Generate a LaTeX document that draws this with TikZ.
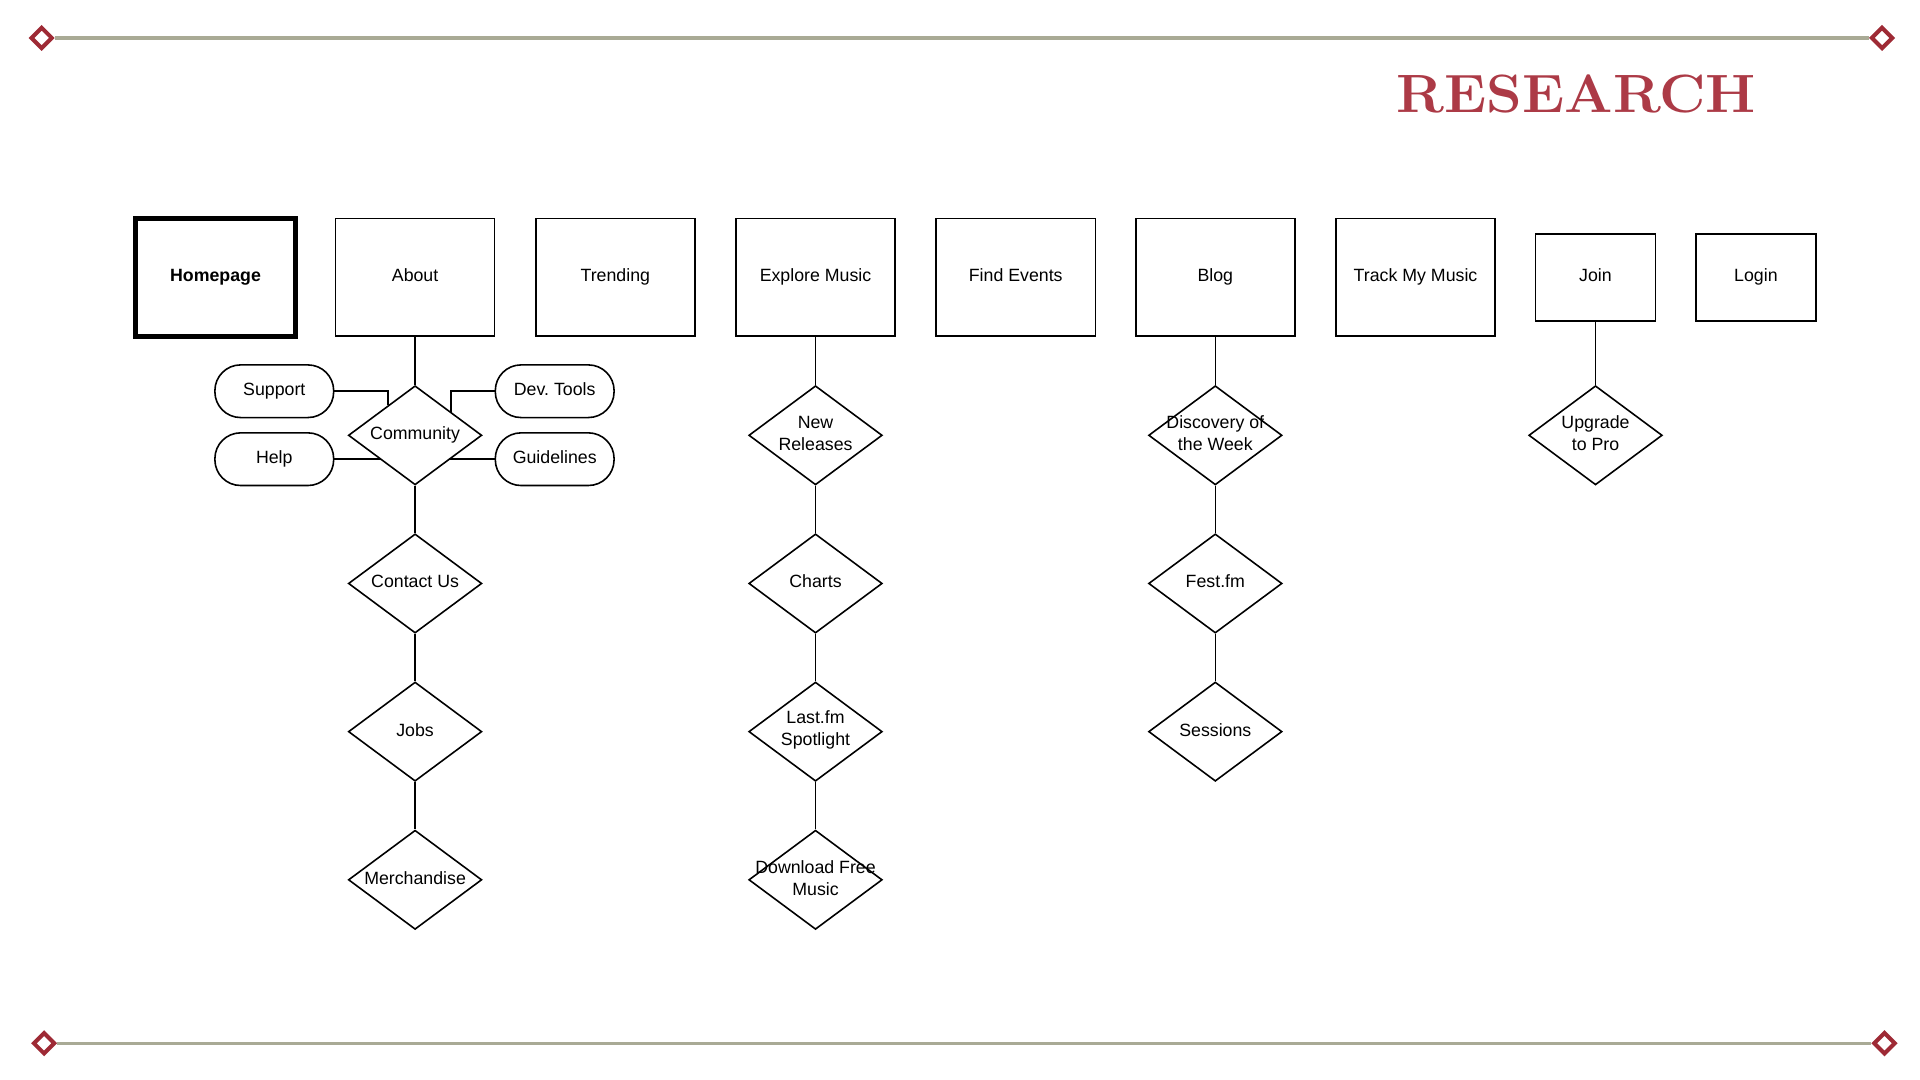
\documentclass[tikz,border=0pt]{standalone}
\usepackage{fontspec}
\newfontfamily\arial{Liberation Sans}
\usetikzlibrary{shapes.geometric,calc}
\definecolor{titlered}{HTML}{AC3A46}
\definecolor{markred}{HTML}{9E2A35}
\definecolor{rulegrey}{HTML}{A9AA95}
\tikzset{
  lbl/.style={font=\arial\fontsize{14.5}{18}\selectfont, align=center},
  oneline/.style={text height=10.4pt, text depth=3.1pt},
  box/.style={draw, line width=1.3pt, minimum width=130pt, minimum height=96pt, inner sep=0pt, lbl, oneline},
  smallbox/.style={box, minimum width=98pt, minimum height=71pt},
  dia/.style={draw, diamond, line width=1.3pt, minimum width=109pt, minimum height=81pt, inner sep=0pt},
  dtext/.style={lbl, inner sep=0pt, yshift=1.5pt},
  dtext1/.style={lbl, inner sep=0pt, oneline},
  pill/.style={draw, rounded corners=21pt, line width=1.3pt, minimum width=97pt, minimum height=43pt, inner sep=0pt, lbl, oneline},
  conn/.style={line width=1.3pt},
  mk/.style={draw=markred, fill=white, diamond, line width=3.3pt, minimum width=18pt, minimum height=18pt, inner sep=0pt},
  rule/.style={draw=rulegrey, line width=2.6pt}
}
\begin{document}
\frenchspacing
\begin{tikzpicture}[x=1pt,y=-1pt]
\useasboundingbox (0,0) rectangle (1568,882);
% border rules
\node[mk] (tl) at (34,31) {};
\node[mk] (tr) at (1537,31) {};
\node[mk] (bl) at (36,852) {};
\node[mk] (br) at (1539,852) {};
\draw[rule] (tl.east) -- (tr.west);
\draw[rule] (bl.east) -- (br.west);
% title
\node[text=titlered, font=\bfseries\fontsize{44}{44}\selectfont, inner sep=0pt] (title) at (1287.5,77) {\scalebox{1.06}[1]{RESEARCH}};
% top-level boxes
\node[box, line width=4pt, font=\arial\bfseries\fontsize{14.5}{18}\selectfont] (home) at (176,226.5) {Homepage};
\node[box] (about) at (339,226.5) {About};
\node[box] (trend) at (502.5,226.5) {Trending};
\node[box] (explore) at (666,226.5) {Explore Music};
\node[box] (events) at (829.5,226.5) {Find Events};
\node[box] (blog) at (992.5,226.5) {Blog};
\node[box] (track) at (1156,226.5) {Track My Music};
\node[smallbox] (join) at (1303,226.5) {Join};
\node[smallbox] (login) at (1434,226.5) {Login};
% About column
\node[dia, label={[dtext1]center:Community}] (comm) at (339,355.5) {};
\node[dia, label={[dtext1]center:Contact Us}] (contact) at (339,476.5) {};
\node[dia, label={[dtext1]center:Jobs}] (jobs) at (339,597.5) {};
\node[dia, label={[dtext1]center:Merchandise}] (merch) at (339,718.5) {};
\node[pill] (sup) at (224,319.5) {Support};
\node[pill] (help) at (224,375) {Help};
\node[pill] (dev) at (453,319.5) {Dev. Tools};
\node[pill] (guide) at (453,375) {Guidelines};
% Explore column
\node[dia, label={[dtext]center:New\\Releases}] (newrel) at (666,355.5) {};
\node[dia, label={[dtext1]center:Charts}] (charts) at (666,476.5) {};
\node[dia, label={[dtext]center:Last.fm\\Spotlight}] (spot) at (666,597.5) {};
\node[dia, label={[dtext]center:Download Free\\Music}] (dl) at (666,718.5) {};
% Blog column
\node[dia, label={[dtext]center:Discovery of\\the Week}] (disc) at (992.5,355.5) {};
\node[dia, label={[dtext1]center:Fest.fm}] (fest) at (992.5,476.5) {};
\node[dia, label={[dtext1]center:Sessions}] (sess) at (992.5,597.5) {};
% Join column
\node[dia, label={[dtext]center:Upgrade\\to Pro}] (pro) at (1303,355.5) {};
% connectors
\draw[conn] (about) -- (comm);
\draw[conn] (comm) -- (contact);
\draw[conn] (contact) -- (jobs);
\draw[conn] (jobs) -- (merch);
\draw[conn] (explore) -- (newrel);
\draw[conn] (newrel) -- (charts);
\draw[conn] (charts) -- (spot);
\draw[conn] (spot) -- (dl);
\draw[conn] (blog) -- (disc);
\draw[conn] (disc) -- (fest);
\draw[conn] (fest) -- (sess);
\draw[conn] (join) -- (pro);
\coordinate (cnw) at ($(comm.north)!0.4!(comm.west)$);
\coordinate (cne) at ($(comm.north)!0.53!(comm.east)$);
\coordinate (csw) at ($(comm.west)!0.5!(comm.south)$);
\coordinate (cse) at ($(comm.east)!0.5!(comm.south)$);
\draw[conn] (sup.east) -| (cnw);
\draw[conn] (dev.west) -| (cne);
\draw[conn] (help.east) -- (help.east -| csw);
\draw[conn] (guide.west) -- (guide.west -| cse);
\end{tikzpicture}
\end{document}
